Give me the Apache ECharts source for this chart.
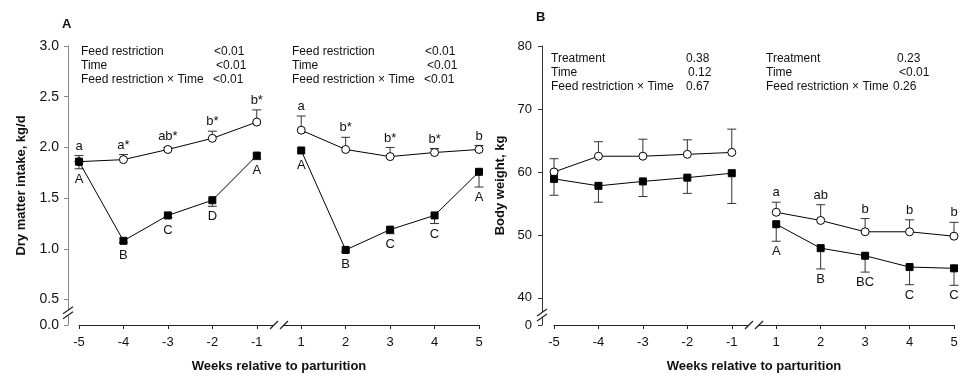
<!DOCTYPE html>
<html>
<head>
<meta charset="utf-8">
<script src="https://cdn.jsdelivr.net/npm/echarts@6/dist/echarts.min.js"></script>
<style>
  html, body { margin: 0; padding: 0; background: #fff; }
  #main { width: 961px; height: 378px; }
</style>
</head>
<body>
<div id="main"></div>
<script>
// weeks relative to parturition (x categories, -1 and 1 sit next to each other)
var weeks = ['-5', '-4', '-3', '-2', '-1', '1', '2', '3', '4', '5'];

// A: dry matter intake, kg/d
var dmiCtrl = [1.86, 1.88, 1.98, 2.09, 2.25, 2.17, 1.98, 1.91, 1.95, 1.98];
var dmiCtrlSe = [0.06, 0.05, 0.02, 0.07, 0.12, 0.14, 0.12, 0.09, 0.04, 0.04];
var dmiRestr = [1.86, 1.08, 1.33, 1.48, 1.92, 1.97, 0.99, 1.19, 1.33, 1.76];
var dmiRestrSe = [0.07, 0.02, 0.02, 0.06, 0.04, 0, 0.02, 0.04, 0.08, 0.15];
var dmiCtrlLetters = ['a', 'a*', 'ab*', 'b*', 'b*', 'a', 'b*', 'b*', 'b*', 'b'];
var dmiRestrLetters = ['A', 'B', 'C', 'D', 'A', 'A', 'B', 'C', 'C', 'A'];

// B: body weight, kg
var bwCtrl = [60.0, 62.5, 62.5, 62.8, 63.1, 53.6, 52.3, 50.5, 50.5, 49.8];
var bwCtrlSe = [2.1, 2.3, 2.7, 2.3, 3.7, 1.6, 2.5, 2.1, 1.9, 2.2];
var bwRestr = [58.9, 57.8, 58.5, 59.1, 59.8, 51.7, 47.9, 46.7, 44.9, 44.7];
var bwRestrSe = [2.6, 2.6, 2.4, 2.5, 4.8, 2.7, 3.3, 2.6, 2.8, 2.7];
var bwCtrlLetters = ['', '', '', '', '', 'a', 'ab', 'b', 'b', 'b'];
var bwRestrLetters = ['', '', '', '', '', 'A', 'B', 'BC', 'C', 'C'];

// y tick labels (lowest value stands for the broken-off zero)
var dmiTicks = [0.25, 0.5, 1.0, 1.5, 2.0, 2.5, 3.0];
var bwTicks = [35.7, 40, 50, 60, 70, 80];

// P-value tables
var statsA1 = [['Feed restriction', '<0.01'], ['Time', '<0.01'], ['Feed restriction \u00d7 Time', '<0.01']];
var statsA2 = [['Feed restriction', '<0.01'], ['Time', '<0.01'], ['Feed restriction \u00d7 Time', '<0.01']];
var statsB1 = [['Treatment', '0.38'], ['Time', '0.12'], ['Feed restriction \u00d7 Time', '0.67']];
var statsB2 = [['Treatment', '0.23'], ['Time', '<0.01'], ['Feed restriction \u00d7 Time', '0.26']];

var FONT = 'Arial, "Liberation Sans", sans-serif';
var INK = '#111';

var chart = echarts.init(document.getElementById('main'));

function lineParts(g, vals, symbol, fill, z, mark) {
    var out = [];
    [[0, 5], [5, 10]].forEach(function (r, k) {
        var s = {
            type: 'line',
            xAxisIndex: g, yAxisIndex: g,
            z: z,
            data: vals.slice(r[0], r[1]).map(function (v, i) { return [i + r[0], v]; }),
            symbol: symbol,
            symbolSize: symbol === 'rect' ? 7 : 8,
            itemStyle: { color: fill, borderColor: '#000', borderWidth: 1 },
            lineStyle: { color: '#000', width: 1 },
            animation: false
        };
        if (mark && k === 0) {
            s.markLine = {
                silent: true, symbol: 'none', label: { show: false },
                lineStyle: { color: '#999', width: 1, type: [6, 4] },
                data: [[{ coord: [4.5, g === 0 ? 3.05 : 80.8] }, { coord: [4.5, g === 0 ? dmiTicks[0] : bwTicks[0]] }]]
            };
        }
        out.push(s);
    });
    return out;
}

function errSeries(g, vals, se, dir, letters) {
    return {
        type: 'custom',
        xAxisIndex: g, yAxisIndex: g,
        z: 1,
        animation: false,
        data: vals.map(function (v, i) { return [i, v, se[i]]; }),
        renderItem: function (params, api) {
            var i = api.value(0), v = api.value(1), e = api.value(2);
            var p0 = api.coord([i, v]);
            var p1 = api.coord([i, v + dir * e]);
            var kids = [];
            if (e > 0) {
                kids.push({ type: 'line', shape: { x1: p0[0], y1: p0[1], x2: p1[0], y2: p1[1] },
                    style: { stroke: '#333', lineWidth: 1 } });
                kids.push({ type: 'line', shape: { x1: p1[0] - 4.5, y1: p1[1], x2: p1[0] + 4.5, y2: p1[1] },
                    style: { stroke: '#333', lineWidth: 1 } });
            }
            var txt = letters[params.dataIndex];
            if (txt) {
                var edge = dir > 0 ? Math.min(p1[1], p0[1] - 4) : Math.max(p1[1], p0[1] + 4);
                kids.push({ type: 'text', x: p0[0], y: edge + (dir > 0 ? -3 : 4),
                    style: { text: txt, align: 'center', verticalAlign: dir > 0 ? 'bottom' : 'top',
                        font: '13px ' + FONT, fill: INK } });
            }
            return { type: 'group', children: kids };
        }
    };
}

function xAxisCfg(g) {
    return {
        type: 'value', gridIndex: g, min: 0, max: 9, interval: 1,
        name: 'Weeks relative to parturition', nameLocation: 'middle', nameGap: 35,
        nameTextStyle: { fontFamily: FONT, fontWeight: 'bold', fontSize: 13, color: INK },
        axisLine: { onZero: false, lineStyle: { color: '#222', width: 1 } },
        axisTick: { length: 4, lineStyle: { color: '#222' } },
        axisLabel: { margin: 11, fontFamily: FONT, fontSize: 13, color: INK,
            formatter: function (v) { return weeks[v]; } },
        splitLine: { show: false }
    };
}

var option = {
    animation: false,
    grid: [
        { left: 79, width: 400, top: 46, height: 281 },
        { left: 554, width: 400, top: 46, height: 280 }
    ],
    xAxis: [xAxisCfg(0), xAxisCfg(1)],
    yAxis: [
        {
            type: 'value', gridIndex: 0, min: dmiTicks[0], max: 3.0, offset: 11,
            name: 'Dry matter intake, kg/d', nameLocation: 'middle', nameGap: 40,
            nameTextStyle: { fontFamily: FONT, fontWeight: 'bold', fontSize: 13, color: INK },
            axisLine: { show: true, onZero: false, lineStyle: { color: '#888', width: 1 } },
            axisTick: { show: true, length: 4, customValues: dmiTicks },
            axisLabel: { margin: 9, fontFamily: FONT, fontSize: 14, color: INK, customValues: dmiTicks,
                formatter: function (v) { return v === dmiTicks[0] ? '0.0' : v.toFixed(1); } },
            splitLine: { show: false }
        },
        {
            type: 'value', gridIndex: 1, min: bwTicks[0], max: 80, offset: 12,
            name: 'Body weight, kg', nameLocation: 'middle', nameGap: 35,
            nameTextStyle: { fontFamily: FONT, fontWeight: 'bold', fontSize: 13, color: INK },
            axisLine: { show: true, onZero: false, lineStyle: { color: '#333', width: 1 } },
            axisTick: { show: true, length: 4, customValues: bwTicks },
            axisLabel: { margin: 10, fontFamily: FONT, fontSize: 13, color: INK, customValues: bwTicks,
                formatter: function (v) { return v === bwTicks[0] ? '0' : String(v); } },
            splitLine: { show: false }
        }
    ],
    series: [].concat(
        errSeries(0, dmiCtrl, dmiCtrlSe, 1, dmiCtrlLetters),
        errSeries(0, dmiRestr, dmiRestrSe, -1, dmiRestrLetters),
        lineParts(0, dmiCtrl, 'circle', '#fff', 3, true),
        lineParts(0, dmiRestr, 'rect', '#000', 4, false),
        errSeries(1, bwCtrl, bwCtrlSe, 1, bwCtrlLetters),
        errSeries(1, bwRestr, bwRestrSe, -1, bwRestrLetters),
        lineParts(1, bwCtrl, 'circle', '#fff', 3, true),
        lineParts(1, bwRestr, 'rect', '#000', 4, false)
    )
};
chart.setOption(option);

// annotations: panel letters, P-value tables, axis break marks
var gfx = [];
function txt(x, y, s, bold) {
    gfx.push({ type: 'text', x: x, y: y, z: 100,
        style: { text: s, font: (bold ? 'bold 13px ' : '12px ') + FONT, fill: INK, verticalAlign: 'middle' } });
}
function table(rows, x, xv, y) {
    rows.forEach(function (r, i) {
        txt(x, y + i * 14, r[0]);
        txt(xv[i], y + i * 14, r[1]);
    });
}
txt(62, 24, 'A', true);
txt(536, 17, 'B', true);
table(statsA1, 81, [214, 216, 213], 52);
table(statsA2, 292, [425, 427, 424], 52);
table(statsB1, 551, [686, 688, 686], 59);
table(statsB2, 766, [897, 899, 893], 59);

var seg = function (x1, y1, x2, y2) {
    return { type: 'line', z: 101, shape: { x1: x1, y1: y1, x2: x2, y2: y2 },
        style: { stroke: '#222', lineWidth: 1.2 } };
};
var wipe = function (x, y, w, h) {
    return { type: 'rect', z: 100, shape: { x: x, y: y, width: w, height: h }, style: { fill: '#fff' } };
};
[[0, 11, 0.37], [1, 12, 37.3]].forEach(function (b) {
    var g = b[0];
    var ax = chart.convertToPixel({ xAxisIndex: g }, 0) - b[1];
    var py = chart.convertToPixel({ yAxisIndex: g }, b[2]);
    gfx.push(wipe(ax - 2, py - 3, 4, 6));
    gfx.push(seg(ax - 5, py + 1, ax + 5, py - 6));
    gfx.push(seg(ax - 5, py + 6, ax + 5, py - 1));
    var bx = chart.convertToPixel({ xAxisIndex: g }, 4.5);
    var by = chart.convertToPixel({ yAxisIndex: g }, g === 0 ? dmiTicks[0] : bwTicks[0]);
    gfx.push(wipe(bx - 5, by - 3, 10, 6));
    gfx.push(seg(bx - 9, by + 4, bx - 1, by - 4));
    gfx.push(seg(bx + 1, by + 4, bx + 9, by - 4));
});
chart.setOption({ graphic: gfx });
</script>
</body>
</html>
